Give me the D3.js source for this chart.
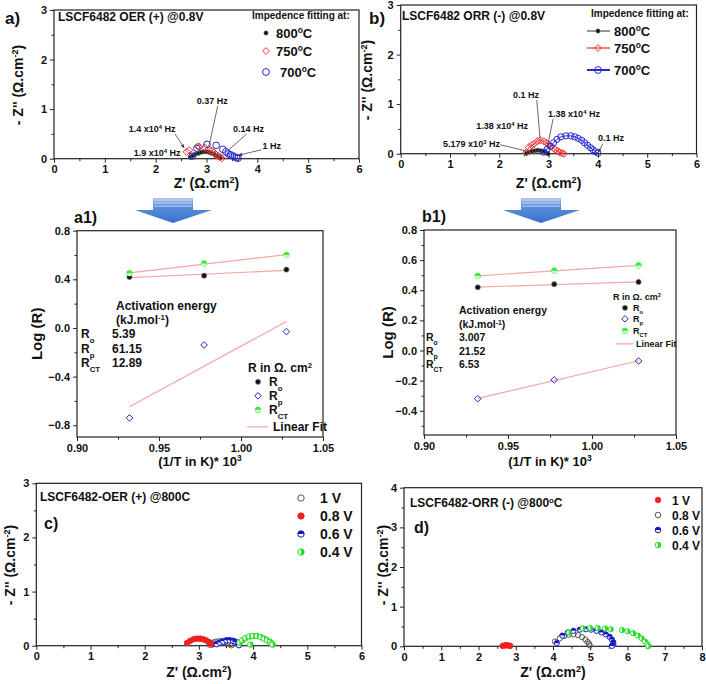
<!DOCTYPE html>
<html><head><meta charset="utf-8">
<script src="https://cdn.jsdelivr.net/npm/d3@7"></script>
<style>
body{margin:0;background:#fff}
svg{display:block;font-family:"Liberation Sans",Arial,sans-serif;font-weight:bold}
</style>
</head><body>
<svg id="fig" width="706" height="684"></svg>
<script>
// ---------- DATA ----------
// Panel a: OER (+) @0.8V, Nyquist [Z', -Z'']
const aS800 = [[2.68,0.03],[2.73,0.06],[2.78,0.09],[2.84,0.11],[2.9,0.13],[2.95,0.14],[3.0,0.14],[3.05,0.13],[3.1,0.11],[3.15,0.09],[3.19,0.06],[3.23,0.04],[3.27,0.02]];
const aS750 = [[2.61,0.14],[2.66,0.17],[2.83,0.25],[2.86,0.24],[2.97,0.22],[3.04,0.19],[3.1,0.16],[3.15,0.12],[3.19,0.08],[3.23,0.05],[3.27,0.03],[3.3,0.01]];
const aS700 = [[2.72,0.05],[2.81,0.21],[3.01,0.29],[3.19,0.27],[3.32,0.19],[3.38,0.14],[3.43,0.1],[3.47,0.08],[3.51,0.06],[3.55,0.04],[3.59,0.02],[3.62,0.01]];
const aLegend = ["800", "750", "700"];
// Panel b: ORR (-) @0.8V
const bS800 = [[2.55,0.01],[2.6,0.03],[2.66,0.05],[2.72,0.06],[2.78,0.07],[2.84,0.06],[2.9,0.04],[2.95,0.02],[2.99,0.0]];
const bS750 = [[2.55,0.03],[2.6,0.13],[2.66,0.17],[2.71,0.2],[2.77,0.25],[2.83,0.27],[2.9,0.25],[2.96,0.22],[3.01,0.18],[3.05,0.15],[3.1,0.11],[3.14,0.08],[3.18,0.05],[3.22,0.03],[3.27,0.01],[3.31,0.0]];
const bS700 = [[2.9,0.03],[2.97,0.09],[3.03,0.15],[3.1,0.22],[3.17,0.29],[3.25,0.34],[3.35,0.36],[3.45,0.36],[3.53,0.34],[3.6,0.31],[3.67,0.27],[3.73,0.22],[3.79,0.17],[3.85,0.12],[3.9,0.08],[3.95,0.04],[4.0,0.01]];
// Panel a1 / b1 : Arrhenius-type plot
const invT = [0.932, 0.9775, 1.0277];
const a1Ro = [0.42, 0.43, 0.48];
const a1Rp = [-0.74, -0.14, -0.03];
const a1Rct = [0.45, 0.53, 0.60];
const b1Ro = [0.42, 0.44, 0.455];
const b1Rp = [-0.32, -0.195, -0.07];
const b1Rct = [0.495, 0.53, 0.565];
const a1Ea = ["5.39", "61.15", "12.89"];
const b1Ea = ["3.007", "21.52", "6.53"];
// Panel c: OER (+) @800C at different voltages
const cV1 = [[3.2,0.02],[3.25,0.05],[3.3,0.07],[3.36,0.08],[3.42,0.08],[3.48,0.07],[3.53,0.05],[3.57,0.03],[3.6,0.01]];
const cV08 = [[2.78,0.05],[2.84,0.09],[2.9,0.12],[2.96,0.13],[3.02,0.13],[3.08,0.12],[3.13,0.1],[3.18,0.07],[3.22,0.04],[3.25,0.02]];
const cV06 = [[3.33,0.03],[3.39,0.06],[3.45,0.08],[3.51,0.1],[3.57,0.1],[3.63,0.09],[3.68,0.07],[3.72,0.04],[3.74,0.01]];
const cV04 = [[3.75,0.06],[3.8,0.1],[3.86,0.14],[3.93,0.17],[4.0,0.18],[4.07,0.18],[4.14,0.16],[4.2,0.13],[4.26,0.1],[4.31,0.07],[4.34,0.04],[4.36,0.02],[3.95,0.02]];
// Panel d: ORR (-) @800C at different voltages
const dV1 = [[2.65,0.01],[2.7,0.02],[2.75,0.03],[2.8,0.02],[2.85,0.01]];
const dV08 = [[4.05,0.12],[4.18,0.2],[4.3,0.26],[4.42,0.29],[4.55,0.3],[4.67,0.28],[4.78,0.23],[4.87,0.17],[4.93,0.11],[4.97,0.06],[4.99,0.02]];
const dV06 = [[4.1,0.08],[4.25,0.27],[4.4,0.35],[4.55,0.39],[4.72,0.42],[4.88,0.43],[5.02,0.42],[5.17,0.39],[5.3,0.35],[5.42,0.3],[5.52,0.24],[5.58,0.17],[5.62,0.1],[5.62,0.04],[5.58,0.01]];
const dV04 = [[4.42,0.35],[4.8,0.45],[5.0,0.46],[5.2,0.46],[5.4,0.45],[5.55,0.43],[5.85,0.41],[6.0,0.38],[6.15,0.33],[6.28,0.27],[6.38,0.2],[6.47,0.12],[6.53,0.05],[6.56,0.01]];
const voltLabels = ["1 V", "0.8 V", "0.6 V", "0.4 V"];

// ---------- HELPERS ----------
const svg = d3.select("#fig");
const defs = svg.append("defs");
defs.append("marker").attr("id","ah").attr("viewBox","0 0 10 10").attr("refX",9).attr("refY",5)
  .attr("markerWidth",5).attr("markerHeight",5).attr("orient","auto")
  .append("path").attr("d","M0,1L10,5L0,9z").attr("fill","#333");
const grad = defs.append("linearGradient").attr("id","arrg").attr("x1",0).attr("y1",0).attr("x2",0).attr("y2",1);
grad.append("stop").attr("offset","0%").attr("stop-color","#a9c3ec");
grad.append("stop").attr("offset","30%").attr("stop-color","#5f92dc");
grad.append("stop").attr("offset","100%").attr("stop-color","#3570cc");

// rich text: parts = [["t","text"],["sup","o"],["sub","CT"]]
function rich(g, x, y, parts, size, opts={}) {
  const t = g.append("text").attr("x", x).attr("y", y).attr("font-size", size)
    .attr("fill", opts.fill || "#111");
  if (opts.anchor) t.attr("text-anchor", opts.anchor);
  if (opts.transform) t.attr("transform", opts.transform);
  parts.forEach(p => {
    const ts = t.append("tspan").text(p[1]);
    if (p[0] === "sup") ts.attr("baseline-shift", "super").attr("font-size", size * 0.65);
    if (p[0] === "sub") ts.attr("baseline-shift", "sub").attr("font-size", size * 0.65);
  });
  return t;
}

function marker(g, type, color, cx, cy, r) {
  if (type === "filled") {
    g.append("circle").attr("cx",cx).attr("cy",cy).attr("r",r).attr("fill",color).attr("stroke",color).attr("stroke-width",0.8);
  } else if (type === "dot") {
    g.append("circle").attr("cx",cx).attr("cy",cy).attr("r",r).attr("fill","#111").attr("stroke","#888").attr("stroke-width",0.6);
  } else if (type === "open") {
    g.append("circle").attr("cx",cx).attr("cy",cy).attr("r",r).attr("fill","none").attr("stroke",color).attr("stroke-width",1);
  } else if (type === "diamond") {
    g.append("path").attr("d", `M${cx},${cy-r}L${cx+r},${cy}L${cx},${cy+r}L${cx-r},${cy}Z`)
      .attr("fill","none").attr("stroke",color).attr("stroke-width",1);
  } else if (type === "halfTop") {
    g.append("circle").attr("cx",cx).attr("cy",cy).attr("r",r).attr("fill","#fff").attr("stroke",color).attr("stroke-width",1);
    g.append("path").attr("d",`M${cx-r},${cy}A${r},${r} 0 0 1 ${cx+r},${cy}Z`).attr("fill",color);
  } else if (type === "halfRight") {
    g.append("circle").attr("cx",cx).attr("cy",cy).attr("r",r).attr("fill","#fff").attr("stroke",color).attr("stroke-width",1);
    g.append("path").attr("d",`M${cx},${cy-r}A${r},${r} 0 0 1 ${cx},${cy+r}Z`).attr("fill",color);
  } else if (type === "ballG") {
    g.append("circle").attr("cx",cx).attr("cy",cy).attr("r",r).attr("fill",color).attr("stroke",color).attr("stroke-width",0.8);
    g.append("path").attr("d",`M${cx-r},${cy}A${r},${r} 0 0 0 ${cx+r},${cy}Z`).attr("fill","#cfc");
  }
}

function rangeStep(a, b, s) { const out=[]; for (let v=a; v<=b+1e-9; v+=s) out.push(+v.toFixed(6)); return out; }

function axes(g, x, y, box, xt, xm, yt, ym, fmtX, fmtY, fs) {
  g.append("rect").attr("x",box.l).attr("y",box.t).attr("width",box.r-box.l).attr("height",box.b-box.t)
    .attr("fill","none").attr("stroke","#222").attr("stroke-width",1.2);
  const gx = g.append("g").attr("transform",`translate(0,${box.b})`)
    .call(d3.axisBottom(x).tickValues(xt).tickSize(4).tickPadding(3).tickFormat(fmtX));
  const gxm = g.append("g").attr("transform",`translate(0,${box.b})`)
    .call(d3.axisBottom(x).tickValues(xm).tickSize(2.5).tickFormat(""));
  const gy = g.append("g").attr("transform",`translate(${box.l},0)`)
    .call(d3.axisLeft(y).tickValues(yt).tickSize(4).tickPadding(3).tickFormat(fmtY));
  const gym = g.append("g").attr("transform",`translate(${box.l},0)`)
    .call(d3.axisLeft(y).tickValues(ym).tickSize(2.5).tickFormat(""));
  [gx,gxm,gy,gym].forEach(a => {
    a.select(".domain").remove();
    a.selectAll("line").attr("stroke","#222").attr("stroke-width",1);
    a.selectAll("text").attr("font-size",fs).attr("font-weight","bold").attr("font-family","Liberation Sans, Arial, sans-serif").attr("fill","#111");
  });
}

// ---------- NYQUIST PANELS ----------
function nyquist(cfg) {
  const g = svg.append("g");
  const box = cfg.box;
  const x = d3.scaleLinear().domain(cfg.xd).range([box.l, box.r]);
  const y = d3.scaleLinear().domain(cfg.yd).range([box.b, box.t]);
  axes(g, x, y, box, rangeStep(cfg.xd[0],cfg.xd[1],1), rangeStep(0.5,cfg.xd[1],1),
       rangeStep(cfg.yd[0],cfg.yd[1],1), rangeStep(0.5,cfg.yd[1],1), d3.format("d"), d3.format("d"), 11);
  cfg.series.forEach(s => {
    if (s.line) {
      g.append("path").datum(s.data).attr("fill","none").attr("stroke",s.color).attr("stroke-width",1)
        .attr("d", d3.line().x(d=>x(d[0])).y(d=>y(d[1])));
    }
    const mg = g.append("g");
    s.data.forEach(d => marker(mg, s.type, s.color, x(d[0]), y(d[1]), s.r));
  });
  (cfg.notes || []).forEach(n => {
    rich(g, x(n.tx), y(n.ty), n.parts, 9);
    if (n.from) {
      g.append("line").attr("x1",x(n.from[0])).attr("y1",y(n.from[1])).attr("x2",x(n.to[0])).attr("y2",y(n.to[1]))
        .attr("stroke","#444").attr("stroke-width",0.8).attr("marker-end", n.arrow ? "url(#ah)" : null);
    }
  });
  const ycx = cfg.ylab[0], ycy = cfg.ylab[1];
  rich(g, ycx, ycy, [["t","- Z'' ("],["t","Ω.cm"],["sup","-2"],["t",")"]], 14,
       {anchor:"middle", transform:`rotate(-90,${ycx},${ycy})`});
  rich(g, (box.l+box.r)/2, cfg.xlabY, [["t","Z' (Ω.cm"],["sup","2"],["t",")"]], 14, {anchor:"middle"});
  return {g, x, y};
}

// panel a
nyquist({
  box:{l:54,r:359,t:10,b:158.7}, xd:[0,6], yd:[0,3], ylab:[23,85], xlabY:188,
  series:[
    {data:aS800, type:"dot", color:"#111", r:2.2},
    {data:aS750, type:"diamond", color:"#f03030", r:3.6},
    {data:aS700, type:"open", color:"#2828d0", r:3.3}
  ],
  notes:[
    {tx:2.81, ty:1.1, parts:[["t","0.37 Hz"]], from:[3.22,1.06], to:[3.05,0.26]},
    {tx:3.52, ty:0.54, parts:[["t","0.14 Hz"]], from:[3.79,0.5], to:[3.44,0.18]},
    {tx:4.1, ty:0.2, parts:[["t","1 Hz"]], from:[4.08,0.18], to:[3.63,0.07], arrow:true},
    {tx:1.47, ty:0.54, parts:[["t","1.4 x10"],["sup","4"],["t"," Hz"]], from:[2.38,0.5], to:[2.56,0.22], arrow:true},
    {tx:1.57, ty:0.05, parts:[["t","1.9 x10"],["sup","4"],["t"," Hz"]]}
  ]
});
// panel b
nyquist({
  box:{l:400.7,r:696.5,t:5,b:153.7}, xd:[0,6], yd:[0,3], ylab:[372,80], xlabY:188,
  series:[
    {data:bS800, type:"dot", color:"#555", r:2.2, line:true},
    {data:bS750, type:"diamond", color:"#f03030", r:3.6, line:true},
    {data:bS700, type:"open", color:"#2828d0", r:3.1, line:true}
  ],
  notes:[
    {tx:2.28, ty:1.12, parts:[["t","0.1 Hz"]], from:[2.76,1.08], to:[2.83,0.28]},
    {tx:2.99, ty:0.74, parts:[["t","1.38 x10"],["sup","4"],["t"," Hz"]], from:[3.09,0.7], to:[2.97,0.1]},
    {tx:1.53, ty:0.5, parts:[["t","1.38 x10"],["sup","4"],["t"," Hz"]]},
    {tx:0.86, ty:0.135, parts:[["t","5.179 x10"],["sup","3"],["t"," Hz"]], from:[2.02,0.18], to:[2.57,0.05]},
    {tx:4.0, ty:0.26, parts:[["t","0.1 Hz"]], from:[4.1,0.2], to:[4.01,0.03], arrow:true}
  ]
});
// titles & legends a/b
rich(svg, 5, 24, [["t","a)"]], 17);
rich(svg, 58, 21, [["t","LSCF6482 OER (+) @0.8V"]], 12);
rich(svg, 252, 19, [["t","Impedence fitting at:"]], 10);
const aTypes = [["dot","#111"],["diamond","#f03030"],["open","#2828d0"]];
aLegend.forEach((lab,i) => {
  const yy = [33,51,72][i];
  marker(svg, aTypes[i][0], aTypes[i][1], 266, yy, i===0?2.2:3.4);
  rich(svg, 276+(i===2?4:0), yy+5, [["t",lab],["sup","o"],["t","C"]], 13);
});
rich(svg, 369, 24, [["t","b)"]], 17);
rich(svg, 402, 20, [["t","LSCF6482 ORR (-) @0.8V"]], 12);
rich(svg, 591, 17, [["t","Impedence fitting at:"]], 10);
const bTypes = [["dot","#555"],["diamond","#f03030"],["open","#2828d0"]];
aLegend.forEach((lab,i) => {
  const yy = [31,48,70][i];
  svg.append("line").attr("x1",587).attr("x2",610).attr("y1",yy).attr("y2",yy).attr("stroke",bTypes[i][1]).attr("stroke-width",i===2?2:1.2);
  marker(svg, bTypes[i][0], bTypes[i][1], 598, yy, i===0?2.2:3.4);
  rich(svg, 614, yy+5, [["t",lab],["sup","o"],["t","C"]], 13);
});

// ---------- ARROWS ----------
function bigArrow(cx) {
  const g = svg.append("g");
  g.append("path").attr("d",`M${cx-20},198L${cx+20},198L${cx+20},210L${cx+39},210L${cx},223L${cx-38},210L${cx-20},210Z`)
    .attr("fill","url(#arrg)");
  [200,203,206].forEach(yy => g.append("line").attr("x1",cx-19).attr("x2",cx+19).attr("y1",yy).attr("y2",yy).attr("stroke","#dbe6f7").attr("stroke-width",0.8));
}
bigArrow(173);
bigArrow(541);

// ---------- ARRHENIUS PANELS ----------
function fitLine(xs, ys) {
  const mx = d3.mean(xs), my = d3.mean(ys);
  let sxy=0, sxx=0;
  xs.forEach((v,i)=>{ sxy += (v-mx)*(ys[i]-my); sxx += (v-mx)*(v-mx); });
  const m = sxy/sxx;
  return [[xs[0], my + m*(xs[0]-mx)], [xs[xs.length-1], my + m*(xs[xs.length-1]-mx)]];
}
function arrhenius(cfg) {
  const g = svg.append("g");
  const box = cfg.box;
  const x = d3.scaleLinear().domain([0.9,1.05]).range([box.l, box.r]);
  const y = d3.scaleLinear().domain(cfg.yd).range([box.b, box.t]);
  axes(g, x, y, box, [0.9,0.95,1.0,1.05], [0.925,0.975,1.025], cfg.yt, cfg.ym, d3.format(".2f"), d3.format(".1f"), 11);
  const fitC = "#f4a6a6";
  [cfg.Ro, cfg.Rp, cfg.Rct].forEach(arr => {
    const f = fitLine(invT, arr);
    g.append("line").attr("x1",x(f[0][0])).attr("y1",y(f[0][1])).attr("x2",x(f[1][0])).attr("y2",y(f[1][1]))
      .attr("stroke",fitC).attr("stroke-width",1.2);
  });
  invT.forEach((t,i) => {
    marker(g, "dot", "#111", x(t), y(cfg.Ro[i]), 2.6);
    marker(g, "diamond", "#2222cc", x(t), y(cfg.Rp[i]), 3.3);
    marker(g, "ballG", "#33ee33", x(t), y(cfg.Rct[i]), 2.8);
  });
  rich(g, cfg.ylabX, (box.t+box.b)/2, [["t","Log (R)"]], 15, {anchor:"middle", transform:`rotate(-90,${cfg.ylabX},${(box.t+box.b)/2})`});
  rich(g, (box.l+box.r)/2, cfg.xlabY, [["t","(1/T in K)* 10"],["sup","3"]], 13, {anchor:"middle"});
  const A = cfg.ea;
  rich(g, A.hx, A.y, [["t","Activation energy"]], A.fs);
  rich(g, A.hx, A.y+A.dy, [["t","(kJ.mol"],["sup","-1"],["t",")"]], A.fs);
  const names = [[["t","R"],["sub","o"]],[["t","R"],["sub","p"]],[["t","R"],["sub","CT"]]];
  names.forEach((nm,i) => {
    rich(g, A.x1, A.y+A.dy*(2+i), nm, A.fs);
    rich(g, A.x2, A.y+A.dy*(2+i), [["t",cfg.vals[i]]], A.fs);
  });
  const L = cfg.leg;
  rich(g, L.x, L.ys[0], [["t","R in Ω. cm"],["sup","2"]], L.fs);
  const lt = [["dot","#111",2.6],["diamond","#2222cc",3.3],["ballG","#33ee33",2.8]];
  names.forEach((nm,i) => {
    marker(g, lt[i][0], lt[i][1], L.mx, L.ys[i+1]-L.fs*0.35, lt[i][2]);
    rich(g, L.tx, L.ys[i+1], nm, L.fs);
  });
  const ly = L.ys[4];
  g.append("line").attr("x1",L.lx1).attr("x2",L.lx2).attr("y1",ly-L.fs*0.35).attr("y2",ly-L.fs*0.35).attr("stroke",fitC).attr("stroke-width",1.2);
  rich(g, L.ltx, ly, [["t","Linear Fit"]], L.fs);
}
arrhenius({
  box:{l:77,r:323,t:230.7,b:437}, yd:[-0.897,0.8],
  yt:[-0.8,-0.4,0,0.4,0.8], ym:[-0.6,-0.2,0.2,0.6],
  Ro:a1Ro, Rp:a1Rp, Rct:a1Rct, vals:a1Ea, ylabX:42, xlabY:466,
  ea:{x1:81, hx:116, x2:112, y:310, dy:14.2, fs:12},
  leg:{x:248, ys:[372,386,400,414,431], fs:12, mx:258, tx:269, lx1:247, lx2:268, ltx:273}
});
arrhenius({
  box:{l:424,r:676,t:230,b:435}, yd:[-0.561,0.8],
  yt:[-0.4,-0.2,0,0.2,0.4,0.6,0.8], ym:[-0.5,-0.3,-0.1,0.1,0.3,0.5,0.7],
  Ro:b1Ro, Rp:b1Rp, Rct:b1Rct, vals:b1Ea, ylabX:393, xlabY:466,
  ea:{x1:426, hx:459, x2:459, y:314, dy:13.5, fs:10.5},
  leg:{x:613, ys:[300,311,322,334,347], fs:9, mx:625, tx:633, lx1:616, lx2:633, ltx:636}
});
rich(svg, 74, 223, [["t","a1)"]], 16);
rich(svg, 422, 222, [["t","b1)"]], 16);

// ---------- VOLTAGE PANELS ----------
nyquist({
  box:{l:36.3,r:361.5,t:483.3,b:645.7}, xd:[0,6], yd:[0,3], ylab:[15,565], xlabY:677,
  series:[
    {data:cV1, type:"open", color:"#555", r:2.8},
    {data:cV08, type:"filled", color:"#f02020", r:2.8},
    {data:cV06, type:"halfTop", color:"#1818c8", r:2.8},
    {data:cV04, type:"halfRight", color:"#22dd22", r:2.8}
  ]
});
rich(svg, 40, 501, [["t","LSCF6482-OER (+) @800C"]], 12);
rich(svg, 44, 529, [["t","c)"]], 16);
const cTypes = [["open","#555"],["filled","#f02020"],["halfTop","#1818c8"],["halfRight","#22dd22"]];
voltLabels.forEach((lab,i) => {
  const yy = 498 + i*18;
  marker(svg, cTypes[i][0], cTypes[i][1], 301, yy, 3.2);
  rich(svg, 320, yy+5, [["t",lab]], 14);
});

nyquist({
  box:{l:404,r:702,t:487.7,b:646.3}, xd:[0,8], yd:[0,4], ylab:[388,565], xlabY:677,
  series:[
    {data:dV1, type:"filled", color:"#f02020", r:2.8},
    {data:dV08, type:"open", color:"#555", r:2.6},
    {data:dV06, type:"halfTop", color:"#1818c8", r:2.6},
    {data:dV04, type:"halfRight", color:"#22dd22", r:2.6}
  ]
});
rich(svg, 410, 507, [["t","LSCF6482-ORR (-) @800"],["sup","o"],["t","C"]], 12);
rich(svg, 414, 533, [["t","d)"]], 16);
const dTypes = [["filled","#f02020"],["open","#555"],["halfTop","#1818c8"],["halfRight","#22dd22"]];
voltLabels.forEach((lab,i) => {
  const yy = 500 + i*15;
  marker(svg, dTypes[i][0], dTypes[i][1], 658, yy, 2.8);
  rich(svg, 672, yy+5, [["t",lab]], 12);
});
</script>
</body></html>
